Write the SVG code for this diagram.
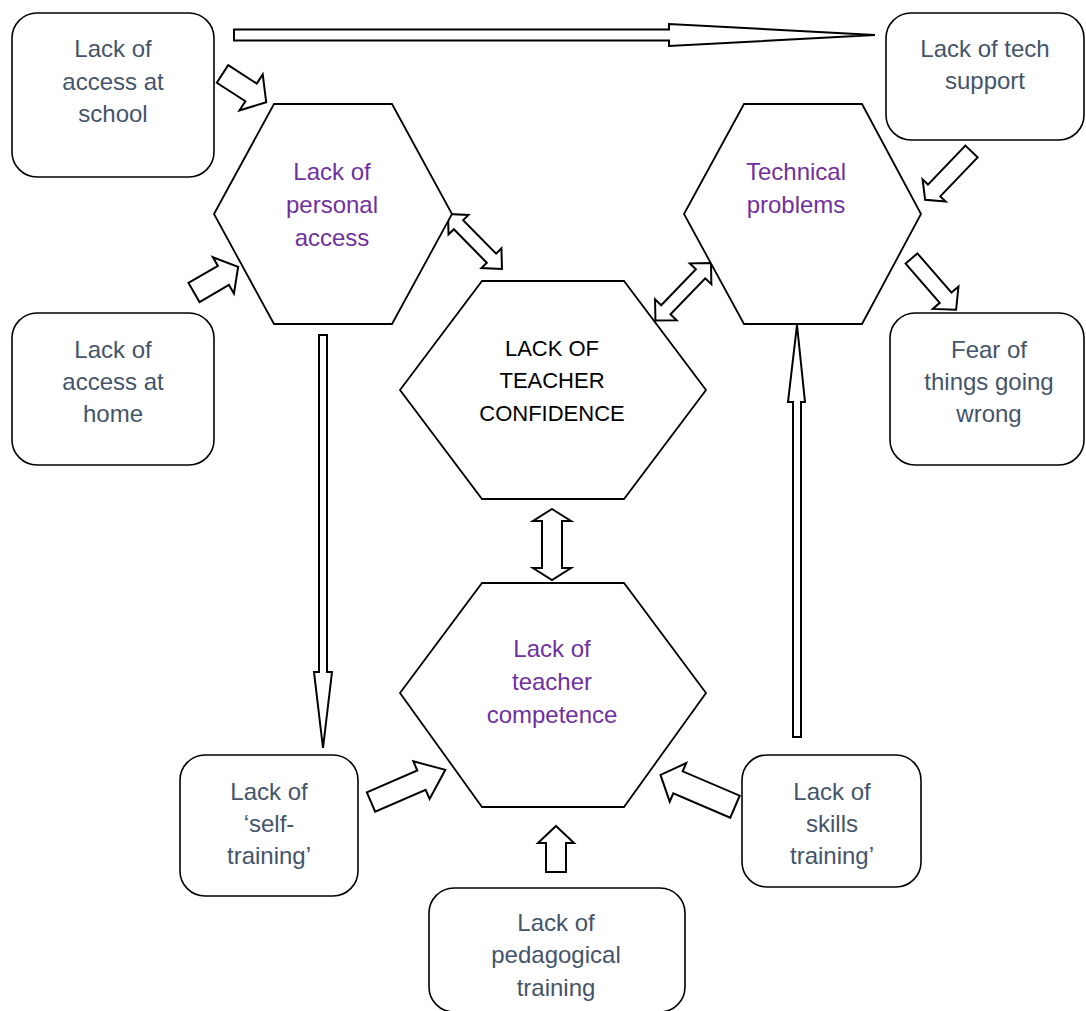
<svg xmlns="http://www.w3.org/2000/svg" width="1086" height="1011" viewBox="0 0 1086 1011">
<style>
.box{fill:#fff;stroke:#000;stroke-width:1.6}
.hex{fill:#fff;stroke:#000;stroke-width:1.8}
.arr{fill:#fff;stroke:#000;stroke-width:2;stroke-linejoin:miter}
.t{font-family:"Liberation Sans",Arial,sans-serif;font-size:24px;text-anchor:middle;fill:#44546A}
.p{fill:#7030A0}
.c{fill:#000;font-size:22px}
</style>
<rect width="1086" height="1011" fill="#fff"/>
<g id="connectors">
<polygon class="arr" points="234,29.5 669,29.5 669,24 875,35 669,46 669,40.5 234,40.5"/>
<polygon class="arr" points="0,-10.5 34,-10.5 34,-21.5 52,0 34,21.5 34,10.5 0,10.5" transform="translate(222.5,74) rotate(32.8)"/>
<polygon class="arr" points="0,-11 34,-11 34,-21 51,0 34,21 34,11 0,11" transform="translate(194,292.5) rotate(-30.1)"/>
<polygon class="arr" points="0,0 15,-14 15,-6.5 62,-6.5 62,-14 77,0 62,14 62,6.5 15,6.5 15,14" transform="translate(448,214) rotate(45.5)"/>
<polygon class="arr" points="0,0 15,-15 15,-6.5 65,-6.5 65,-15 80,0 65,15 65,6.5 15,6.5 15,15" transform="translate(711,263) rotate(134)"/>
<polygon class="arr" points="0,-8.5 54,-8.5 54,-16 67,0 54,16 54,8.5 0,8.5" transform="translate(971.5,151.5) rotate(133.8)"/>
<polygon class="arr" points="0,-7.8 52,-7.8 52,-17 68,0 52,17 52,7.8 0,7.8" transform="translate(911.5,258.5) rotate(49)"/>
<polygon class="arr" points="319,335 327,335 327,672 332,672 323,748 314,672 319,672"/>
<polygon class="arr" points="793,737 801,737 801,402 805,402 797,325 788,402 793,402"/>
<polygon class="arr" points="552,509 571,521 562,521 562,568 571,568 552,580 533,568 542,568 542,521 533,521"/>
<polygon class="arr" points="0,-10.5 55,-10.5 55,-20.5 81,0 55,20.5 55,10.5 0,10.5" transform="translate(371,802) rotate(-23.4)"/>
<polygon class="arr" points="0,-12 62,-12 62,-21 81,0 62,21 62,12 0,12" transform="translate(735,806.7) rotate(203.1)"/>
<polygon class="arr" points="556,826 574,843 566,843 566,872 546,872 546,843 538,843"/>
</g>
<g id="school"><rect class="box" x="12" y="13" width="202" height="164" rx="25"/>
<text class="t"><tspan x="113" y="57">Lack of</tspan><tspan x="113" y="90">access at</tspan><tspan x="113" y="122">school</tspan></text></g>
<g id="techsupport"><rect class="box" x="886" y="13" width="198" height="127" rx="25"/>
<text class="t"><tspan x="985" y="57">Lack of tech</tspan><tspan x="985" y="89">support</tspan></text></g>
<g id="home"><rect class="box" x="12" y="313" width="202" height="152" rx="25"/>
<text class="t"><tspan x="113" y="358">Lack of</tspan><tspan x="113" y="390">access at</tspan><tspan x="113" y="422">home</tspan></text></g>
<g id="fear"><rect class="box" x="890" y="313" width="194" height="152" rx="25"/>
<text class="t"><tspan x="989" y="358">Fear of</tspan><tspan x="989" y="390">things going</tspan><tspan x="989" y="422">wrong</tspan></text></g>
<g id="selftraining"><rect class="box" x="180" y="755" width="178" height="141" rx="25"/>
<text class="t"><tspan x="269" y="800">Lack of</tspan><tspan x="269" y="832">‘self-</tspan><tspan x="269" y="864">training’</tspan></text></g>
<g id="skills"><rect class="box" x="742" y="755" width="179" height="132" rx="25"/>
<text class="t"><tspan x="832" y="800">Lack of</tspan><tspan x="832" y="832">skills</tspan><tspan x="832" y="864">training’</tspan></text></g>
<g id="pedagogical"><rect class="box" x="429" y="888" width="256" height="124" rx="25"/>
<text class="t"><tspan x="556" y="931">Lack of</tspan><tspan x="556" y="963">pedagogical</tspan><tspan x="556" y="996">training</tspan></text></g>
<g id="personal"><polygon class="hex" points="214,214 274,104 392,104 452,214 392,324 274,324"/>
<text class="t p"><tspan x="332" y="180">Lack of</tspan><tspan x="332" y="213">personal</tspan><tspan x="332" y="246">access</tspan></text></g>
<g id="technical"><polygon class="hex" points="684,214 744,104 862,104 921,214 862,324 744,324"/>
<text class="t p"><tspan x="796" y="180">Technical</tspan><tspan x="796" y="213">problems</tspan></text></g>
<g id="confidence"><polygon class="hex" points="400,390 482,281 624,281 706,390 624,499 482,499"/>
<text class="t c"><tspan x="552" y="356">LACK OF</tspan><tspan x="552" y="388">TEACHER</tspan><tspan x="552" y="421">CONFIDENCE</tspan></text></g>
<g id="competence"><polygon class="hex" points="400,693 482,583 624,583 706,693 624,807 482,807"/>
<text class="t p"><tspan x="552" y="657">Lack of</tspan><tspan x="552" y="690">teacher</tspan><tspan x="552" y="723">competence</tspan></text></g>
</svg>
